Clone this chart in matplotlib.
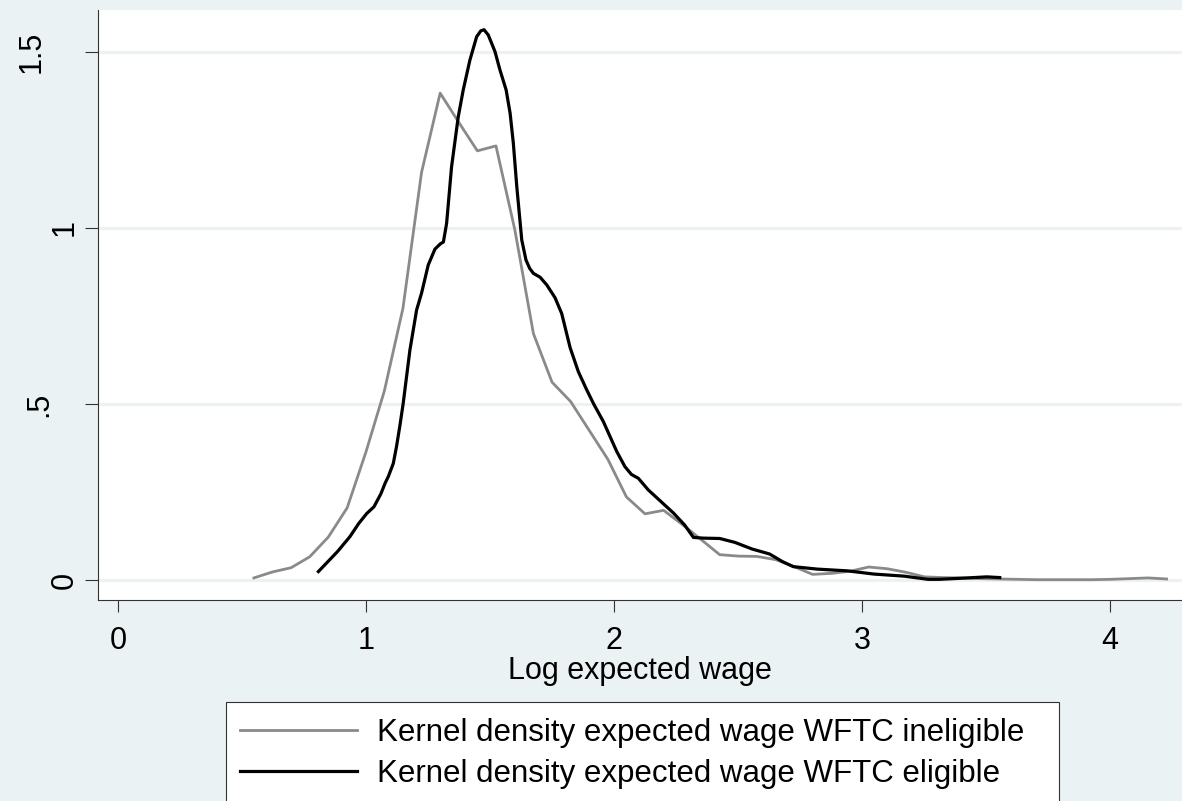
import matplotlib
matplotlib.use("Agg")
import matplotlib.pyplot as plt
import matplotlib.transforms as mtransforms
import matplotlib.patches as mpatches

# Densidade kernel - salario esperado (inelegivel, 50 pontos)
x_inelegivel = [0.548, 0.623, 0.698, 0.773, 0.848, 0.924, 0.999, 1.074, 1.149, 1.224,
                1.299, 1.374, 1.449, 1.524, 1.600, 1.675, 1.750, 1.825, 1.900, 1.975,
                2.050, 2.125, 2.200, 2.275, 2.351, 2.426, 2.501, 2.576, 2.651, 2.726,
                2.801, 2.877, 2.952, 3.027, 3.102, 3.177, 3.252, 3.327, 3.402, 3.477,
                3.552, 3.627, 3.702, 3.777, 3.852, 3.927, 4.003, 4.078, 4.153, 4.228]
y_inelegivel = [0.006, 0.023, 0.035, 0.066, 0.122, 0.205, 0.362, 0.537, 0.772, 1.158,
                1.383, 1.300, 1.219, 1.233, 0.995, 0.700, 0.562, 0.507, 0.425, 0.343,
                0.236, 0.188, 0.198, 0.158, 0.115, 0.072, 0.068, 0.067, 0.058, 0.038,
                0.016, 0.019, 0.025, 0.037, 0.032, 0.022, 0.009, 0.007, 0.006, 0.004,
                0.003, 0.002, 0.001, 0.001, 0.001, 0.001, 0.002, 0.004, 0.006, 0.003]

# Densidade kernel - salario esperado (elegivel)
x_elegivel = [0.808, 0.850, 0.884, 0.935, 0.970, 1.003, 1.032, 1.060, 1.077, 1.090,
              1.110, 1.123, 1.137, 1.150, 1.177, 1.204, 1.224, 1.251, 1.278, 1.300,
              1.312, 1.325, 1.345, 1.372, 1.392, 1.419, 1.446, 1.463, 1.476, 1.493,
              1.520, 1.540, 1.565, 1.581, 1.594, 1.608, 1.628, 1.645, 1.660, 1.675,
              1.702, 1.729, 1.762, 1.789, 1.823, 1.856, 1.890, 1.918, 1.957, 2.011,
              2.044, 2.070, 2.098, 2.138, 2.189, 2.240, 2.285, 2.320, 2.360, 2.426,
              2.487, 2.557, 2.627, 2.680, 2.723, 2.820, 2.942, 3.047, 3.170, 3.266,
              3.310, 3.398, 3.503, 3.555]
y_elegivel = [0.024, 0.055, 0.080, 0.123, 0.160, 0.189, 0.208, 0.245, 0.275, 0.294,
              0.331, 0.379, 0.440, 0.502, 0.653, 0.767, 0.815, 0.895, 0.940, 0.955,
              0.960, 1.013, 1.174, 1.316, 1.392, 1.477, 1.543, 1.560, 1.563, 1.548,
              1.501, 1.449, 1.392, 1.326, 1.241, 1.117, 0.966, 0.909, 0.885, 0.871,
              0.860, 0.838, 0.802, 0.757, 0.660, 0.592, 0.540, 0.500, 0.450, 0.365,
              0.322, 0.300, 0.289, 0.256, 0.223, 0.190, 0.156, 0.121, 0.119, 0.118,
              0.107, 0.088, 0.074, 0.052, 0.038, 0.031, 0.026, 0.017, 0.011, 0.002,
              0.002, 0.005, 0.009, 0.007]

rotulos = ["Kernel density expected wage WFTC ineligible",
           "Kernel density expected wage WFTC eligible"]
ticks_x = [0, 1, 2, 3, 4]
ticks_y = [0, 0.5, 1, 1.5]
rotulos_y = ["0", ".5", "1", "1.5"]

fundo = "#EAF2F3"
plt.rcParams["font.family"] = ["Liberation Sans", "DejaVu Sans"]

fig, ax = plt.subplots(figsize=(11.82, 8.01), dpi=100)
fig.patch.set_facecolor(fundo)
ax.set_facecolor("white")
plt.subplots_adjust(left=0.0829, right=1.0, bottom=0.2509, top=0.9875)

ax.plot(x_inelegivel, y_inelegivel, color="#8a8a8a", lw=2.0, label=rotulos[0], zorder=3)
ax.plot(x_elegivel, y_elegivel, color="black", lw=2.3, label=rotulos[1], zorder=4)

ax.set_xlim(-0.0806, 4.290)
ax.set_ylim(-0.0568, 1.619)

# Grade horizontal no estilo do Stata
for v in ticks_y:
    ax.axhline(v, color=fundo, lw=2.2, zorder=1)

ax.set_xticks(ticks_x)
ax.set_xticklabels([str(t) for t in ticks_x])
ax.set_yticks(ticks_y)
ax.set_yticklabels(rotulos_y, rotation=90, va="center")
ax.tick_params(axis="x", length=8.6, width=0.8, color="#333333", pad=10, labelsize=22)
ax.tick_params(axis="y", length=9.4, width=0.8, color="#333333", pad=3.5, labelsize=22)
ax.set_xlabel("Log expected wage", fontsize=22, labelpad=0)

for lado in ["top", "right"]:
    ax.spines[lado].set_visible(False)
for lado in ["left", "bottom"]:
    ax.spines[lado].set_color("#333333")
    ax.spines[lado].set_linewidth(0.8)

# Caixa da legenda (cortada na borda inferior)
caixa = mpatches.Rectangle((226 / 1182, -0.05), (1059 - 226) / 1182, 99 / 801 + 0.05,
                           transform=fig.transFigure, facecolor="white",
                           edgecolor="#333333", lw=0.8, clip_on=False, zorder=0)
fig.add_artist(caixa)

fig.legend(loc="upper left", bbox_to_anchor=(240 / 1182, 1 - 718 / 801),
           frameon=False, fontsize=22.5, handlelength=3.74, handletextpad=0.64,
           labelspacing=0.35, borderpad=0, borderaxespad=0)

# Deslocamento dos rotulos ".5" e "1.5" como no original
fig.canvas.draw()
desloc = {".5": -26, "1.5": -33}
for tick in ax.yaxis.get_major_ticks():
    txt = tick.label1.get_text()
    if txt in desloc:
        off = mtransforms.ScaledTranslation(desloc[txt] / 100, 0, fig.dpi_scale_trans)
        tick.label1.set_transform(tick.label1.get_transform() + off)

fig.savefig("out.png", dpi=100, facecolor=fundo)
